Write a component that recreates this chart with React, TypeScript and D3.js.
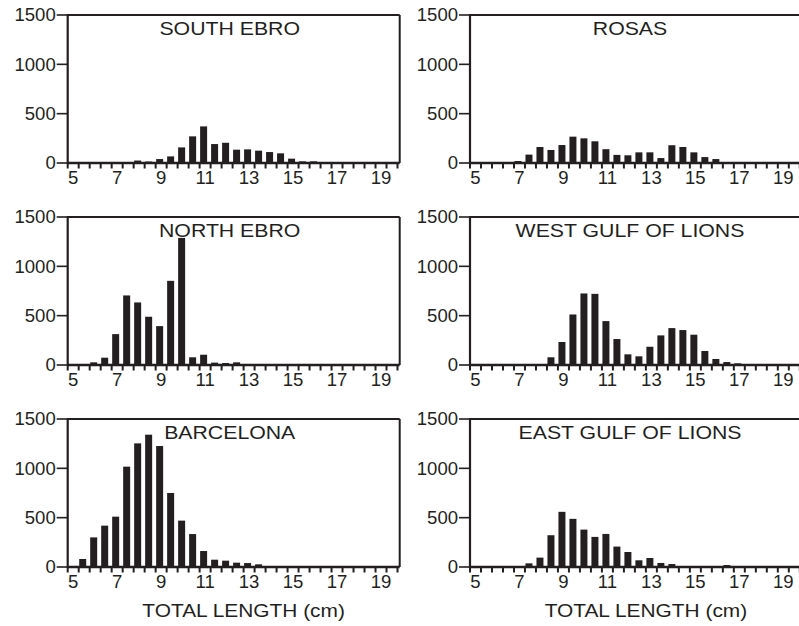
import React from "react";
import * as d3 from "d3";

// ---- data (total length in cm, class start; number of individuals) ----
const xTickLabels = [5, 7, 9, 11, 13, 15, 17, 19];
const yTickValues = [0, 500, 1000, 1500];
const xAxisTitle = "TOTAL LENGTH (cm)";

const southEbroLen = [8, 8.5, 9, 9.5, 10, 10.5, 11, 11.5, 12, 12.5, 13, 13.5, 14, 14.5, 15, 15.5, 16];
const southEbroN = [25, 15, 40, 67, 158, 270, 371, 192, 205, 135, 138, 125, 111, 98, 44, 17, 17];

const rosasLen = [7, 7.5, 8, 8.5, 9, 9.5, 10, 10.5, 11, 11.5, 12, 12.5, 13, 13.5, 14, 14.5, 15, 15.5, 16];
const rosasN = [20, 85, 162, 132, 182, 267, 250, 220, 140, 82, 78, 108, 108, 50, 180, 162, 108, 60, 40];

const northEbroLen = [6, 6.5, 7, 7.5, 8, 8.5, 9, 9.5, 10, 10.5, 11, 11.5, 12, 12.5];
const northEbroN = [27, 74, 313, 705, 634, 489, 394, 853, 1288, 78, 104, 24, 20, 27];

const westGulfLen = [8.5, 9, 9.5, 10, 10.5, 11, 11.5, 12, 12.5, 13, 13.5, 14, 14.5, 15, 15.5, 16, 16.5, 17];
const westGulfN = [78, 233, 512, 725, 721, 445, 263, 108, 88, 185, 300, 374, 354, 307, 142, 61, 30, 17];

const barcelonaLen = [5.5, 6, 6.5, 7, 7.5, 8, 8.5, 9, 9.5, 10, 10.5, 11, 11.5, 12, 12.5, 13, 13.5];
const barcelonaN = [81, 300, 419, 510, 1017, 1253, 1341, 1226, 750, 470, 334, 162, 74, 64, 44, 40, 27];

const eastGulfLen = [7.5, 8, 8.5, 9, 9.5, 10, 10.5, 11, 11.5, 12, 12.5, 13, 13.5, 14, 16.5];
const eastGulfN = [37, 95, 322, 559, 488, 379, 305, 335, 207, 152, 68, 91, 41, 30, 20];

const panelTitles = ["SOUTH EBRO", "ROSAS", "NORTH EBRO", "WEST GULF OF LIONS", "BARCELONA", "EAST GULF OF LIONS"];
const panelLens = [southEbroLen, rosasLen, northEbroLen, westGulfLen, barcelonaLen, eastGulfLen];
const panelCounts = [southEbroN, rosasN, northEbroN, westGulfN, barcelonaN, eastGulfN];

// ---- layout ----
const W = 799;
const H = 626;
const colX = [67.7, 470];
const rowY = [15, 217, 419];
const PW = 332;
const PH = 148;
const INK = "#231f20";
const FONT = "'Liberation Sans', Arial, Helvetica, sans-serif";

const x = d3.scaleLinear().domain([5, 20.1]).range([0, PW]);
const y = d3.scaleLinear().domain([0, 1500]).range([PH, 0]);
const minorTicks = d3.range(5, 20.01, 0.5);

function Panel({ idx }: { idx: number }) {
  const col = idx % 2;
  const row = Math.floor(idx / 2);
  const ox = colX[col];
  const oy = rowY[row];
  const lens = panelLens[idx];
  const counts = panelCounts[idx];
  const binW = x(5.5) - x(5);
  const barW = binW - 4;
  return (
    <g transform={`translate(${ox},${oy})`}>
      {/* bars */}
      {lens.map((l, i) => (
        <rect
          key={i}
          x={x(l) + 0.5}
          y={y(counts[i])}
          width={barW}
          height={PH - y(counts[i])}
          fill={INK}
        />
      ))}
      {/* frame */}
      <line x1={0} x2={PW} y1={0} y2={0} stroke={INK} strokeWidth={2} />
      <line x1={PW} x2={PW} y1={0} y2={PH} stroke={INK} strokeWidth={2} />
      <line x1={0} x2={0} y1={-1} y2={PH + 1} stroke={INK} strokeWidth={2.2} />
      <line x1={0} x2={PW} y1={PH} y2={PH} stroke={INK} strokeWidth={2.5} />
      {/* y ticks */}
      {yTickValues.map((v) => (
        <g key={v}>
          <line x1={-11} x2={0} y1={y(v)} y2={y(v)} stroke={INK} strokeWidth={1.6} />
          <text
            transform={`translate(${-12},${y(v)}) scale(1.06,1)`}
            dy="0.36em"
            textAnchor="end"
            fontSize={17.5}
            fontFamily={FONT}
            fill={INK}
          >
            {v}
          </text>
        </g>
      ))}
      {/* x ticks */}
      {minorTicks.map((t) => (
        <line key={t} x1={x(t)} x2={x(t)} y1={PH} y2={PH + 5.5} stroke={INK} strokeWidth={2} />
      ))}
      {xTickLabels.map((t) => (
        <text
          key={t}
          transform={`translate(${x(t + 0.25)},${PH + 20.5}) scale(1.06,1)`}
          textAnchor="middle"
          fontSize={17.5}
          fontFamily={FONT}
          fill={INK}
        >
          {t}
        </text>
      ))}
      {/* title */}
      <text
        transform={`translate(${col === 0 ? PW / 2 - 4 : PW / 2 - 6},${19.5}) scale(1.15,1)`}
        textAnchor="middle"
        fontSize={18.5}
        fontFamily={FONT}
        fill={INK}
      >
        {panelTitles[idx]}
      </text>
      {row === 2 && (
        <text
          transform={`translate(${x(13)},${PH + 50}) scale(1.16,1)`}
          textAnchor="middle"
          fontSize={18}
          fontFamily={FONT}
          fill={INK}
        >
          {xAxisTitle}
        </text>
      )}
    </g>
  );
}

export default function App() {
  return (
    <svg width={W} height={H} style={{ position: "absolute", left: 0, top: 0, background: "#fff" }}>
      <rect width={W} height={H} fill="#fff" />
      {panelTitles.map((_, i) => (
        <Panel key={i} idx={i} />
      ))}
    </svg>
  );
}
